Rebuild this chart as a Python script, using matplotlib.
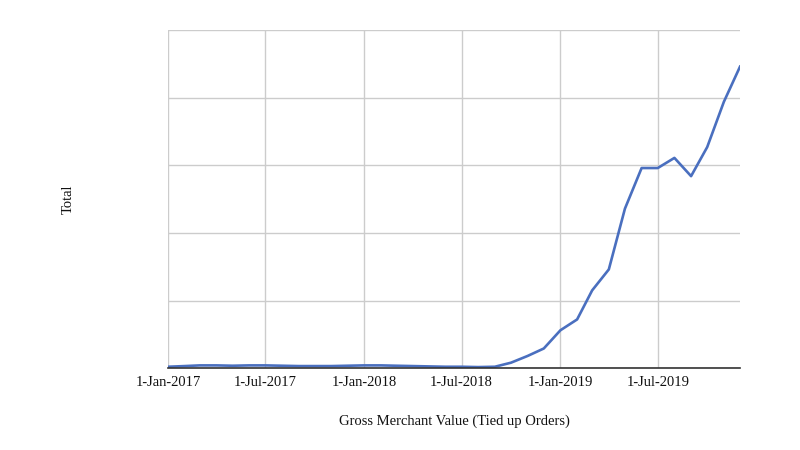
import matplotlib
matplotlib.use("Agg")
import matplotlib.pyplot as plt
import matplotlib.dates as mdates
import pandas as pd

months = pd.date_range("2017-01-01", "2019-12-01", freq="MS")
totals = [0.02, 0.03, 0.04, 0.04, 0.035, 0.04, 0.04, 0.035, 0.03, 0.03,
          0.03, 0.035, 0.04, 0.04, 0.035, 0.03, 0.025, 0.02, 0.02, 0.015,
          0.02, 0.08, 0.18, 0.29, 0.56, 0.72, 1.15, 1.46, 2.36, 2.96,
          2.96, 3.11, 2.84, 3.27, 3.94, 4.46]
tick_dates = pd.to_datetime(["2017-01-01", "2017-07-01", "2018-01-01",
                             "2018-07-01", "2019-01-01", "2019-07-01"])
tick_labels = ["1-Jan-2017", "1-Jul-2017", "1-Jan-2018",
               "1-Jul-2018", "1-Jan-2019", "1-Jul-2019"]

plt.rcParams['font.family'] = ['Liberation Serif', 'DejaVu Serif']

fig = plt.figure(figsize=(8, 4.5), dpi=100)
ax = fig.add_axes([0.21, 0.182, 0.715, 0.751])
ax.plot(months, totals, color="#4a6fbf", linewidth=1.9, solid_joinstyle="round")

ax.set_xlim(months[0], months[-1])
ax.set_ylim(0, 5)
ax.set_xticks(tick_dates)
ax.set_xticklabels(tick_labels, fontsize=10.5, color="#111111")
ax.set_yticks([0, 1, 2, 3, 4, 5])
ax.set_yticklabels([])
ax.tick_params(length=0, pad=6)
ax.grid(True, color="#cccccc", linewidth=1.0)
ax.set_axisbelow(True)
for s in ["top", "right", "left"]:
    ax.spines[s].set_visible(False)
ax.spines["bottom"].set_color("#333333")
ax.spines["bottom"].set_linewidth(1.2)

ax.set_xlabel("Gross Merchant Value (Tied up Orders)", fontsize=10.5, color="#111111", labelpad=18)
ax.set_ylabel("Total", fontsize=10.5, color="#111111", labelpad=61)

fig.savefig("out.png", dpi=100, facecolor="white")
